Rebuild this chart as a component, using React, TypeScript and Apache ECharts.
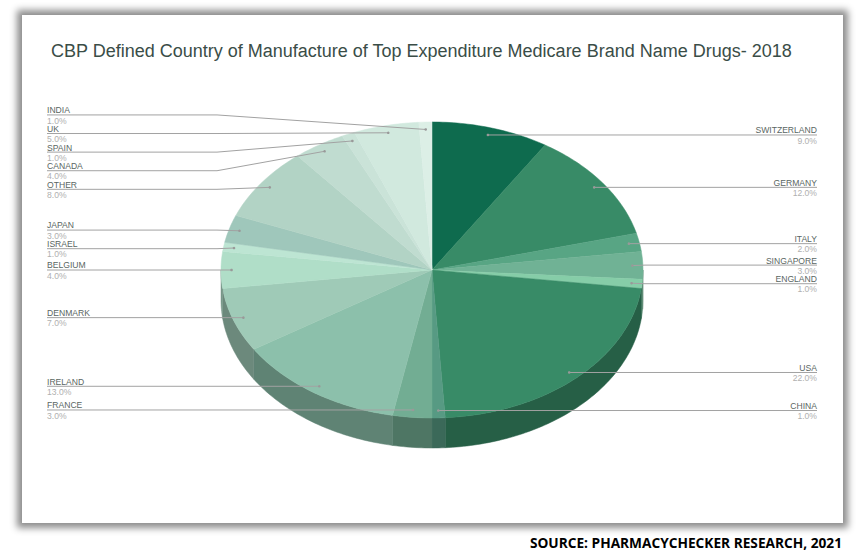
import React, { useEffect, useRef } from 'react';
import * as echarts from 'echarts';

const titleText = 'CBP Defined Country of Manufacture of Top Expenditure Medicare Brand Name Drugs- 2018';
const sourceText = 'SOURCE: PHARMACYCHECKER RESEARCH, 2021';

const categories = [
  'SWITZERLAND', 'GERMANY', 'ITALY', 'SINGAPORE', 'ENGLAND', 'USA', 'CHINA', 'FRANCE', 'IRELAND',
  'DENMARK', 'BELGIUM', 'ISRAEL', 'JAPAN', 'OTHER', 'CANADA', 'SPAIN', 'UK', 'INDIA',
];
const shares = [9, 12, 2, 3, 1, 22, 1, 3, 13, 7, 4, 1, 3, 8, 4, 1, 5, 1];
const sliceColors = [
  '#0e6b4e', '#388b67', '#58a584', '#70b295', '#86cda8', '#388b67', '#579a83', '#72ad93', '#8cc0ab',
  '#9fcab7', '#b0dec8', '#bde5d3', '#9fc7bb', '#b2d3c5', '#c0dcd0', '#cae3d8', '#d1e9de', '#dcefe6',
];

// geometry of the tilted pie (layout, not data)
const CX = 432, CY = 270, RX = 211, RY = 148, DEPTH = 30;
const LEFT_X = 47, RIGHT_X = 817, LEFT_BEND = 217, RIGHT_BEND = 645, GAP = 18.6;

const total = shares.reduce((a, b) => a + b, 0);
const starts: number[] = [];
{
  let acc = 0;
  shares.forEach((v) => { starts.push(acc); acc += v; });
}
const ang = (v: number) => (v / total) * 2 * Math.PI;
const pt = (t: number, r = 1) => [CX + RX * r * Math.sin(t), CY - RY * r * Math.cos(t)];
const arcPts = (a: number, b: number, dy = 0) => {
  const n = Math.max(2, Math.ceil((b - a) / (Math.PI / 180)));
  const out: number[][] = [];
  for (let i = 0; i <= n; i++) {
    const p = pt(a + ((b - a) * i) / n);
    out.push([p[0], p[1] + dy]);
  }
  return out;
};
const darken = (hex: string, f: number) => {
  const n = parseInt(hex.slice(1), 16);
  const r = Math.round(((n >> 16) & 255) * f), g = Math.round(((n >> 8) & 255) * f), b = Math.round((n & 255) * f);
  return 'rgb(' + r + ',' + g + ',' + b + ')';
};

const anchors = shares.map((v, i) => {
  const mid = ang(starts[i] + v / 2);
  const p = pt(mid, 0.95);
  return { i, x: p[0], y: p[1], left: mid > Math.PI };
});

const labelY: number[] = new Array(shares.length).fill(0);
const layoutSide = (items: typeof anchors) => {
  const sorted = [...items].sort((a, b) => a.y - b.y);
  let clusters = sorted.map((it) => ({ items: [it], c: it.y }));
  let merged = true;
  while (merged) {
    merged = false;
    for (let k = 0; k < clusters.length - 1; k++) {
      const A = clusters[k], B = clusters[k + 1];
      const aBottom = A.c + ((A.items.length - 1) * GAP) / 2;
      const bTop = B.c - ((B.items.length - 1) * GAP) / 2;
      if (bTop - aBottom < GAP) {
        const its = A.items.concat(B.items);
        const c = its.reduce((s, it) => s + it.y, 0) / its.length + Math.max(0, its.length - 2) * 1.25;
        clusters.splice(k, 2, { items: its, c });
        merged = true;
        break;
      }
    }
  }
  clusters.forEach((cl) => {
    const n = cl.items.length;
    cl.items.forEach((it, k) => { labelY[it.i] = cl.c - ((n - 1) * GAP) / 2 + k * GAP; });
  });
};
layoutSide(anchors.filter((a) => a.left));
layoutSide(anchors.filter((a) => !a.left));

const FONT = '"Liberation Sans", Arial, sans-serif';

export default function App() {
  const ref = useRef<HTMLDivElement>(null);
  useEffect(() => {
    if (!ref.current) return;
    const chart = echarts.init(ref.current, null, { renderer: 'svg' });
    const data = shares.map((v, i) => ({ name: categories[i], value: [v] }));
    chart.setOption({
      animation: false,
      title: {
        text: titleText,
        left: 46,
        top: 37,
        textStyle: { fontSize: 18, fontWeight: 'normal', color: '#3a4d47', fontFamily: FONT },
      },
      graphic: [
        {
          type: 'text',
          right: 19,
          top: 535,
          style: { text: sourceText, font: 'bold 13.7px "Open Sans", "Liberation Sans", Arial, sans-serif', fill: '#000' },
        },
      ],
      series: [
        {
          type: 'custom',
          coordinateSystem: 'none',
          data,
          z: 2,
          renderItem: (params: any, api: any) => {
            const i = params.dataIndex;
            const v = api.value(0);
            const color = sliceColors[i];
            const a0 = ang(starts[i]);
            const a1 = ang(starts[i] + v);
            const children: any[] = [];
            const s0 = Math.max(a0, Math.PI / 2);
            const s1 = Math.min(a1, 1.5 * Math.PI);
            if (s1 > s0) {
              const rim = arcPts(s0, s1);
              const low = arcPts(s0, s1, DEPTH).reverse();
              const side = darken(color, 0.68);
              children.push({
                type: 'polygon',
                shape: { points: rim.concat(low) },
                style: { fill: side, stroke: side, lineWidth: 0.5 },
              });
            }
            children.push({
              type: 'polygon',
              shape: { points: [[CX, CY]].concat(arcPts(a0, a1)) },
              style: { fill: color, stroke: color, lineWidth: 0.5 },
            });
            return { type: 'group', children };
          },
        },
        {
          type: 'custom',
          coordinateSystem: 'none',
          data,
          z: 5,
          renderItem: (params: any, api: any) => {
            const i = params.dataIndex;
            const v = api.value(0);
            const a = anchors[i];
            const ly = labelY[i];
            const xText = a.left ? LEFT_X : RIGHT_X;
            const bend = a.left ? Math.min(LEFT_BEND, a.x) : Math.max(RIGHT_BEND, a.x);
            const align = a.left ? 'left' : 'right';
            return {
              type: 'group',
              children: [
                {
                  type: 'polyline',
                  shape: { points: [[xText, ly], [bend, ly], [a.x, a.y]] },
                  style: { stroke: '#a2a2a2', lineWidth: 1, fill: null },
                },
                { type: 'circle', shape: { cx: a.x, cy: a.y, r: 1.3 }, style: { fill: '#999' } },
                {
                  type: 'text',
                  x: xText,
                  y: ly - 4.6,
                  style: { text: categories[i], align, verticalAlign: 'middle', font: '8.6px ' + FONT, fill: '#5a6662' },
                },
                {
                  type: 'text',
                  x: xText,
                  y: ly + 5.6,
                  style: { text: Number(v).toFixed(1) + '%', align, verticalAlign: 'middle', font: '8.6px ' + FONT, fill: '#b0b0b0' },
                },
              ],
            };
          },
        },
      ],
    });
    return () => chart.dispose();
  }, []);
  return (
    <div style={{ position: 'fixed', left: 0, top: 0, width: 861, height: 559, background: '#fff' }}>
      <div
        style={{
          position: 'absolute', left: 22, top: 15, width: 821, height: 508, background: '#fff',
          boxShadow: '0 0 7px 5px rgba(0,0,0,0.45)',
        }}
      />
      <div ref={ref} style={{ position: 'absolute', left: 0, top: 0, width: 861, height: 559 }} />
    </div>
  );
}
